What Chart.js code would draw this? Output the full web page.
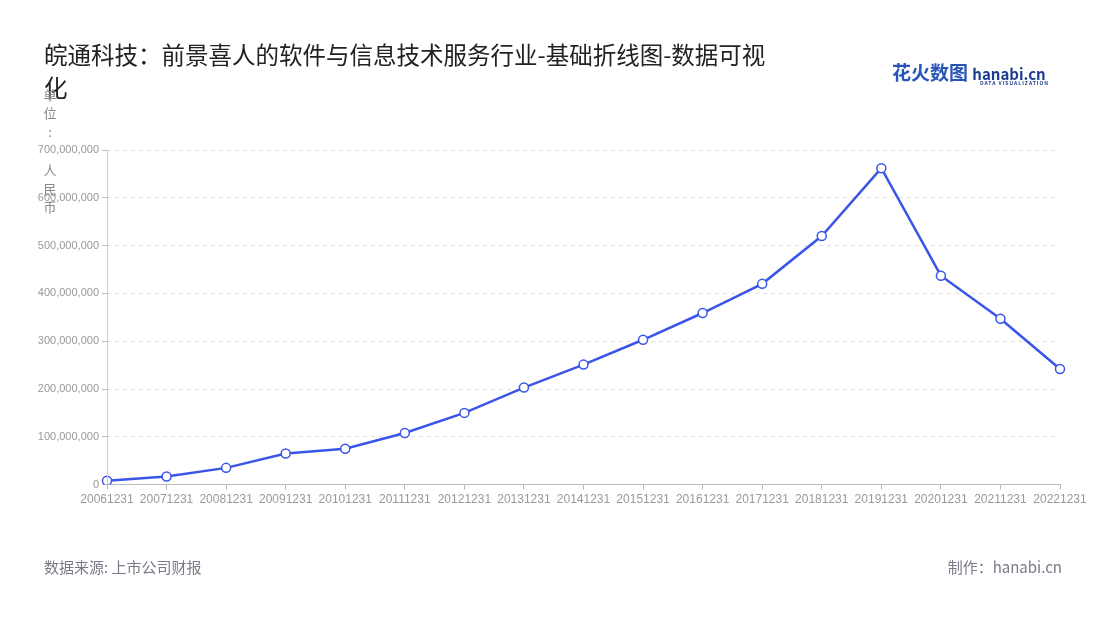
<!DOCTYPE html>
<html><head><meta charset="utf-8">
<script src="https://cdn.jsdelivr.net/npm/chart.js@4"></script>
<style>
body{margin:0;width:1100px;height:620px;background:#fff;font-family:"Noto Sans CJK SC","Noto Sans",sans-serif;position:relative;overflow:hidden}
#wrap{position:absolute;left:0;top:0;width:1100px;height:620px}
.t{position:absolute;left:44px;top:38px;white-space:nowrap;font-size:23.5px;line-height:33px;color:#222}
.u{position:absolute;left:43px;width:14px;font-size:13px;color:#888;text-align:center;line-height:16px}
.f{position:absolute;top:556px;font-size:15px;color:#7a7a88}
.logo{position:absolute;left:892px;top:58px;font-size:19px;font-weight:bold;color:#2a55b8}
.logo span{font-size:15px;color:#1d3d8f}
.logo small{display:block;font-size:5px;color:#1d3d8f;margin-left:88px;margin-top:-6px;letter-spacing:1px}
</style></head><body>
<div id="wrap"><canvas id="c" width="1100" height="620"></canvas></div>
<div class="t">皖通科技：前景喜人的软件与信息技术服务行业-基础折线图-数据可视<br>化</div>
<div class="u" style="top:87px">单</div><div class="u" style="top:105px">位</div><div class="u" style="top:124px">:</div>
<div class="u" style="top:162px">人</div><div class="u" style="top:181px">民</div><div class="u" style="top:199px">币</div>
<div class="f" style="left:44px">数据来源: 上市公司财报</div>
<div class="f" style="right:38px">制作：hanabi.cn</div>
<div class="logo">花火数图 <span>hanabi.cn</span><small>DATA VISUALIZATION</small></div>
<script>
const categories=["20061231","20071231","20081231","20091231","20101231","20111231","20121231","20131231","20141231","20151231","20161231","20171231","20181231","20191231","20201231","20211231","20221231"];
const values=[8e6,17e6,35e6,65e6,75e6,108e6,150e6,203e6,251e6,303e6,359e6,420e6,520e6,662e6,437e6,347e6,242e6];
new Chart(document.getElementById('c'),{type:'line',
data:{labels:categories,datasets:[{data:values,borderColor:'#3a55e8',borderWidth:2.5,pointBackgroundColor:'#fff',pointBorderColor:'#3a55e8',pointBorderWidth:1.5,pointRadius:4.5,tension:0}]},
options:{responsive:false,animation:false,plugins:{legend:{display:false},tooltip:{enabled:false}},
layout:{padding:{left:0,right:40,top:150,bottom:110}},
scales:{x:{offset:false,grid:{display:true,drawOnChartArea:false,tickLength:5,color:'#bbb'},border:{color:'#bbb'},ticks:{color:'#999',font:{size:12},maxRotation:0,autoSkip:false}},
y:{min:0,max:700000000,afterFit(s){s.width=107},border:{display:false,dash:[4,4]},grid:{color:'#e0e0e0',tickLength:5,tickColor:'#bbb',tickBorderDash:[0]},
ticks:{stepSize:100000000,color:'#999',font:{size:11},callback:v=>v.toLocaleString('en-US')}}}},
plugins:[{id:'yline',afterDraw(c){const a=c.chartArea,x=c.ctx;x.save();x.strokeStyle='#ccc';x.lineWidth=1;x.beginPath();x.moveTo(a.left+0.5,a.top);x.lineTo(a.left+0.5,a.bottom);x.stroke();x.restore();}}]});
</script></body></html>
